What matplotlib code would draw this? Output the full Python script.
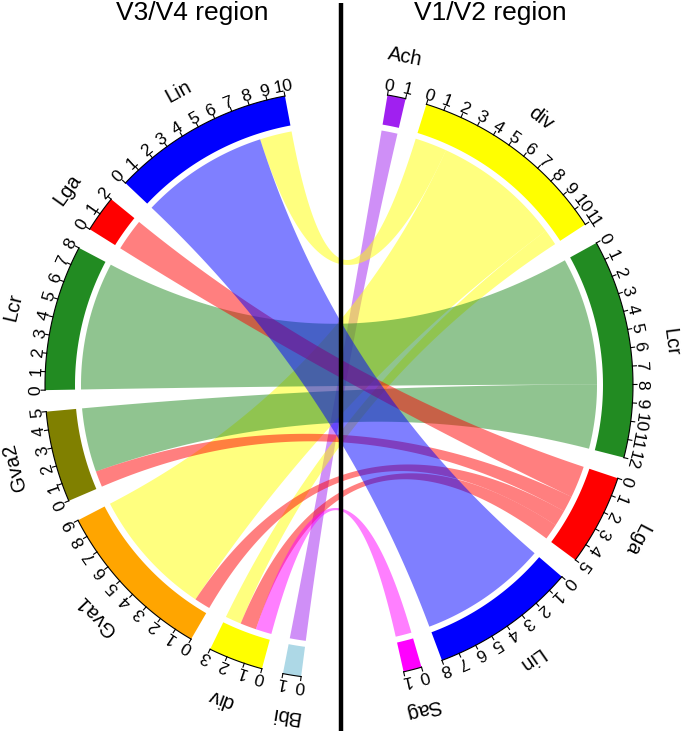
import numpy as np
import matplotlib.pyplot as plt
from matplotlib.patches import Polygon

plt.rcParams['font.family'] = ['Liberation Sans', 'DejaVu Sans']

# sectors, clockwise from the top gap
right_names = ["Ach", "div", "Lcr", "Lga", "Lin", "Sag"]          # V1/V2 region
left_names = ["Bbi", "div", "Gva1", "Gva2", "Lcr", "Lga", "Lin"]   # V3/V4 region

# rows = V3/V4 sectors, columns = V1/V2 sectors
links = np.array([
    [1, 0, 0, 0, 0, 0],
    [0, 1, 0, 1, 0, 1],
    [0, 8, 0, 1, 0, 0],
    [0, 0, 4, 1, 0, 0],
    [0, 0, 8, 0, 0, 0],
    [0, 0, 0, 2, 0, 0],
    [0, 2, 0, 0, 8, 0],
])

colors = {"Ach": "#A020F0", "div": "#FFFF00", "Lcr": "#228B22", "Lga": "#FF0000",
          "Lin": "#0000FF", "Sag": "#FF00FF", "Bbi": "#ADD8E6", "Gva1": "#FFA500",
          "Gva2": "#808000"}

W, H = 685, 731
cx, cy = 339, H - 385
r_out, r_in, r_link = 294, 264, 258
unit = 3.6      # degrees per unit
gap = 4.2       # gap between sectors
start = 80.5

right_size = links.sum(axis=0)
left_size = links.sum(axis=1)
big_gap = (360 - unit * links.sum() * 2 - gap * (len(right_names) + len(left_names) - 2)) / 2

# start angle of each sector
right_start, left_start = [], []
a = start
for s in right_size:
    right_start.append(a)
    a -= s * unit + gap
a = a + gap - big_gap
for s in left_size:
    left_start.append(a)
    a -= s * unit + gap


def pt(theta, r):
    t = np.radians(theta)
    return np.column_stack([cx + r * np.cos(t), cy + r * np.sin(t)])


def arc(t1, t2, r, n=40):
    return pt(np.linspace(t1, t2, n), r)


def bez(p0, p2, n=80):
    s = np.linspace(0, 1, n)[:, None]
    c = np.array([cx, cy])
    return (1 - s) ** 2 * p0 + 2 * (1 - s) * s * c + s ** 2 * p2


fig = plt.figure(figsize=(W / 100, H / 100), dpi=100)
ax = fig.add_axes([0, 0, 1, 1])
ax.set_xlim(0, W)
ax.set_ylim(0, H)
ax.axis('off')

# link positions inside each sector
left_off = {i: 0 for i in range(len(left_names))}
right_off = {j: 0 for j in range(len(right_names))}
left_pos, right_pos = {}, {}
for i in range(len(left_names)):
    for j in reversed(range(len(right_names))):
        if links[i, j]:
            left_pos[(i, j)] = left_off[i]
            left_off[i] += links[i, j]
for j in range(len(right_names)):
    for i in reversed(range(len(left_names))):
        if links[i, j]:
            right_pos[(i, j)] = right_off[j]
            right_off[j] += links[i, j]

for i in range(len(left_names)):
    for j in range(len(right_names)):
        v = links[i, j]
        if not v:
            continue
        a1 = left_start[i] - left_pos[(i, j)] * unit
        a2 = a1 - v * unit
        b1 = right_start[j] - right_pos[(i, j)] * unit
        b2 = b1 - v * unit
        A = arc(a1, a2, r_link)
        B = arc(b1, b2, r_link)
        poly = np.vstack([A, bez(A[-1], B[0]), B, bez(B[-1], A[0])])
        ax.add_patch(Polygon(poly, closed=True, facecolor=colors[right_names[j]],
                             alpha=0.5, edgecolor='none', zorder=2))


def draw_sector(name, a0, size):
    a1 = a0 - size * unit
    track = np.vstack([arc(a0, a1, r_out), arc(a1, a0, r_in)])
    ax.add_patch(Polygon(track, closed=True, facecolor=colors[name], edgecolor='none', zorder=3))
    line = arc(a0, a1, r_out)
    ax.plot(line[:, 0], line[:, 1], color='black', lw=0.8, zorder=4)
    for p in range(size + 1):
        t = a0 - p * unit
        seg = pt(np.array([t, t]), np.array([r_out, r_out + 4]))
        ax.plot(seg[:, 0], seg[:, 1], color='black', lw=0.8, zorder=4)
        xy = pt(t, r_out + 4.5)[0]
        ax.text(xy[0], xy[1], str(p), fontsize=12.5, rotation=t - 90, rotation_mode='anchor',
                ha='center', va='baseline', zorder=5)
    mid = (a0 + a1) / 2
    xy = pt(mid, 329)[0]
    ax.text(xy[0], xy[1], name, fontsize=14.5, rotation=mid - 90, rotation_mode='anchor',
            ha='center', va='baseline', zorder=5)


for j, n in enumerate(right_names):
    draw_sector(n, right_start[j], right_size[j])
for i, n in enumerate(left_names):
    draw_sector(n, left_start[i], left_size[i])

ax.plot([341, 341], [-5, H - 3], color='black', lw=3.2, zorder=6, solid_capstyle='butt')
ax.text(192, H - 20, "V3/V4 region", fontsize=19, ha='center', va='baseline')
ax.text(490, H - 20, "V1/V2 region", fontsize=19, ha='center', va='baseline')

fig.savefig('out.png', dpi=100)
